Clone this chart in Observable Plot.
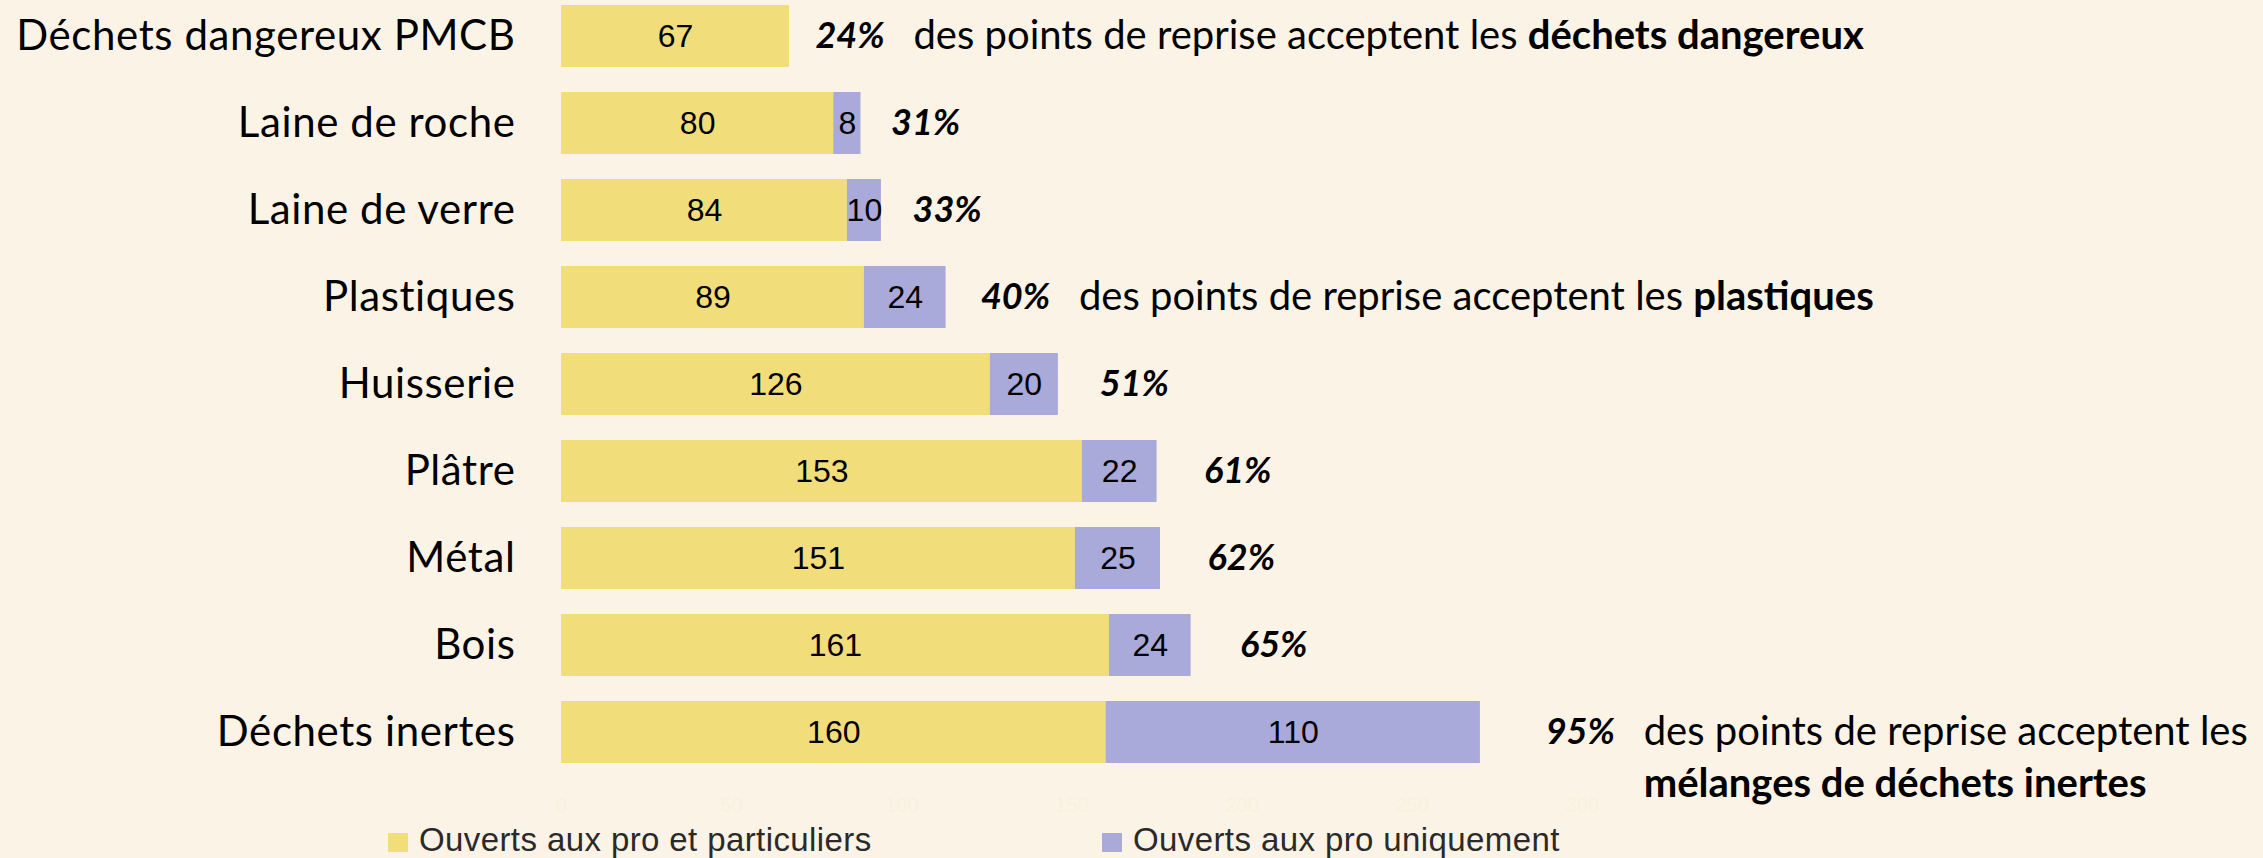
<!DOCTYPE html>
<html>
<head>
<meta charset="utf-8">
<script src="https://cdn.jsdelivr.net/npm/d3@7"></script>
<script src="https://cdn.jsdelivr.net/npm/@observablehq/plot@0.6"></script>
<style>
  html, body { margin: 0; padding: 0; background: #FBF3E6; }
  #wrap { width: 2263px; height: 858px; position: relative; overflow: hidden; background: #FBF3E6; }
  #legend { position: absolute; left: 0; top: 822px; width: 2263px; height: 36px; }
  .lg { position: absolute; top: 0; height: 36px; display: flex; align-items: center;
        font-family: "Liberation Sans", Arial, sans-serif; font-size: 33px; color: #2a2a2a; letter-spacing: 0.4px; }
  .sw { width: 20px; height: 19px; margin-right: 11px; margin-top: 4px; }
</style>
</head>
<body>
<div id="wrap">
  <div id="chart"></div>
  <div id="legend"></div>
</div>
<script>
// ---- data ----
const categories = ["Déchets dangereux PMCB", "Laine de roche", "Laine de verre", "Plastiques", "Huisserie", "Plâtre", "Métal", "Bois", "Déchets inertes"];
const proEtParticuliers = [67, 80, 84, 89, 126, 153, 151, 161, 160];
const proUniquement = [0, 8, 10, 24, 20, 22, 25, 24, 110];
const pctAcceptent = [24, 31, 33, 40, 51, 61, 62, 65, 95];
const seriesNames = ["Ouverts aux pro et particuliers", "Ouverts aux pro uniquement"];
const seriesColors = ["#F1DE7B", "#A9AAD9"];
const annotCategories = ["Déchets dangereux PMCB", "Plastiques", "Déchets inertes"];
const annotLead = ["des points de reprise acceptent les ", "des points de reprise acceptent les ", "des points de reprise acceptent les"];
const annotBold = ["déchets dangereux", "plastiques", "mélanges de déchets inertes"];
const annotBoldNewLine = [false, false, true];
const xTicks = [0, 50, 100, 150, 200, 250, 300];

// ---- derived tables ----
const rows = categories.map((c, i) => ({
  category: c, a: proEtParticuliers[i], b: proUniquement[i],
  total: proEtParticuliers[i] + proUniquement[i], pct: pctAcceptent[i]
}));
const long = rows.flatMap(r => [
  {category: r.category, series: seriesNames[0], value: r.a},
  {category: r.category, series: seriesNames[1], value: r.b}
]).filter(d => d.value > 0);
const totalOf = Object.fromEntries(rows.map(r => [r.category, r.total]));
const annots = annotCategories.map((c, i) => ({
  category: c, total: totalOf[c], lead: annotLead[i], bold: annotBold[i], newline: annotBoldNewLine[i]
}));
const pctX = d => d.total * 1.057 + 3.8;

const humanist = "Lato, 'Open Sans', 'Noto Sans', sans-serif";
const arial = "'Liberation Sans', Arial, sans-serif";

const chart = Plot.plot({
  width: 2263,
  height: 822,
  marginLeft: 561,
  marginRight: 681,
  marginTop: 0,
  marginBottom: 54.4,
  style: {background: "transparent", color: "#FAF0DE", fontSize: "20px", fontFamily: arial},
  x: {domain: [0, 300], ticks: xTicks, tickSize: 0, tickPadding: 30, label: null, axis: "bottom"},
  y: {domain: categories, paddingInner: 0.289, paddingOuter: 0.046, align: 0.5, axis: null},
  color: {domain: seriesNames, range: seriesColors},
  marks: [
    Plot.barX(long, Plot.stackX({y: "category", x: "value", fill: "series", order: null})),
    Plot.text(long, Plot.stackX({y: "category", x: "value", text: d => String(d.value), order: null,
      fill: "#000", fontSize: 32, fontFamily: arial})),
    Plot.text(rows, {y: "category", x: 0, dx: -46, text: "category", textAnchor: "end",
      fill: "#000", fontSize: 42, fontFamily: humanist, style: "letter-spacing:0.5px"}),
    Plot.text(rows, {y: "category", x: pctX, text: d => d.pct + "%", textAnchor: "start",
      fill: "#000", fontSize: 36, fontWeight: "bold", fontStyle: "italic", fontFamily: humanist}),
    Plot.text(annots, {y: "category", x: pctX, dx: 98, text: "lead", textAnchor: "start",
      fill: "#000", fontSize: 40, fontFamily: humanist, ariaLabel: "annotation"}),
    Plot.text(annots.filter(d => d.newline), {y: "category", x: pctX, dx: 98, dy: 52, text: "bold", textAnchor: "start",
      fill: "#000", fontSize: 40, fontWeight: "bold", fontFamily: humanist})
  ]
});
document.getElementById("chart").appendChild(chart);

// letter-spacing for category labels (applied to the group holding them)
chart.querySelectorAll("text").forEach(t => {
  if (categories.includes(t.textContent)) t.style.letterSpacing = "0.6px";
});

// append inline bold continuation to annotation lines
let annTexts = Array.from(chart.querySelectorAll('g[aria-label="annotation"] text'));
if (annTexts.length !== annots.length) {
  annTexts = Array.from(chart.querySelectorAll("text")).filter(t => annotLead.includes(t.textContent));
}
annTexts.forEach((t, i) => {
  const a = annots[i];
  if (a && !a.newline) {
    const ts = document.createElementNS("http://www.w3.org/2000/svg", "tspan");
    ts.setAttribute("font-weight", "bold");
    ts.textContent = a.bold;
    t.appendChild(ts);
  }
});

// legend
const legendLeft = [388, 1102];
const lg = document.getElementById("legend");
seriesNames.forEach((name, i) => {
  const item = document.createElement("div");
  item.className = "lg";
  item.style.left = legendLeft[i] + "px";
  const sw = document.createElement("div");
  sw.className = "sw";
  sw.style.background = seriesColors[i];
  const tx = document.createElement("span");
  tx.textContent = name;
  item.appendChild(sw);
  item.appendChild(tx);
  lg.appendChild(item);
});
</script>
</body>
</html>
